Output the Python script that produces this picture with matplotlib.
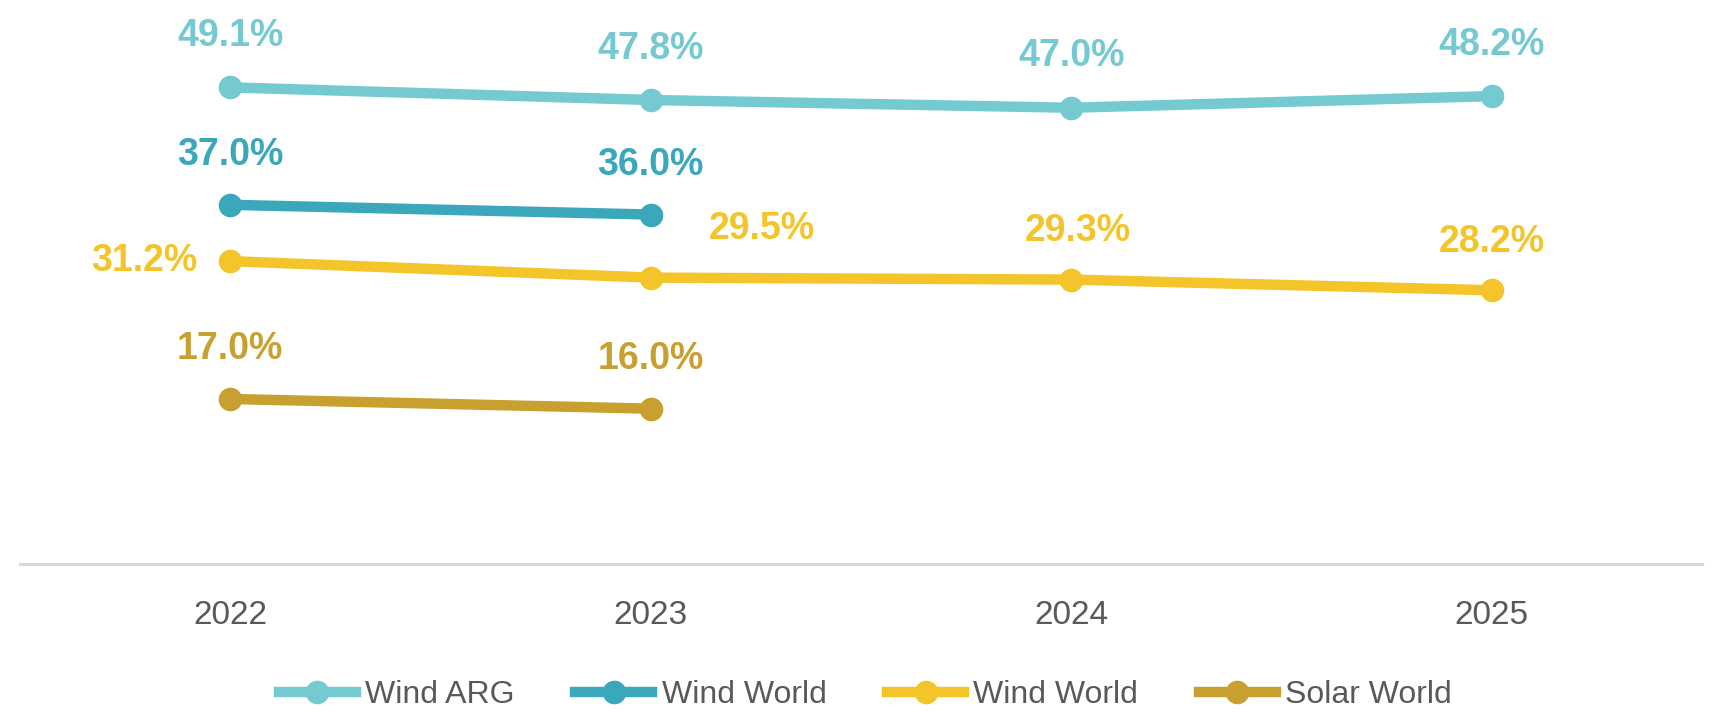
import matplotlib.pyplot as plt
from matplotlib.lines import Line2D

years = ['2022', '2023', '2024', '2025']
series_names = ['Wind ARG', 'Wind World', 'Wind World', 'Solar World']
wind_arg = [49.1, 47.8, 47.0, 48.2]
wind_world = [37.0, 36.0]
wind_world_y = [31.2, 29.5, 29.3, 28.2]
solar_world = [17.0, 16.0]

colors = ['#74CAD0', '#3AA7BB', '#F4C52A', '#C8A030']

plt.rcParams['font.family'] = ['Liberation Sans', 'DejaVu Sans']

fig = plt.figure(figsize=(17.24, 7.28), dpi=100)
ax = fig.add_axes([0.0116, 0.2253, 0.9756, 0.7747])

all_series = [wind_arg, wind_world, wind_world_y, solar_world]
# label offsets in points (dx, dy, ha)
offsets = [
    [(0, 37, 'center')] * 4,
    [(0, 36, 'center')] * 2,
    [(-24, 0, 'right'), (80, 35, 'center'), (5, 35, 'center'), (0, 35, 'center')],
    [(0, 36, 'center')] * 2,
]

for vals, col, offs in zip(all_series, colors, offsets):
    xs = list(range(len(vals)))
    ax.plot(xs, vals, color=col, lw=7.5, marker='o', markersize=17,
            markeredgewidth=0, solid_capstyle='round', zorder=3)
    for x, v, (dx, dy, ha) in zip(xs, vals, offs):
        ax.annotate(f'{v:.1f}%', (x, v), xytext=(dx, dy), textcoords='offset points',
                    ha=ha, va='center', fontsize=27, fontweight='bold', color=col)

ax.set_xlim(-0.5, 3.5)
ax.set_ylim(0, 58.1)
ax.set_xticks(range(len(years)))
ax.set_xticklabels(years)
ax.set_yticks([])
ax.tick_params(axis='x', length=0, pad=26, labelsize=24, labelcolor='#595959')
for s in ['top', 'right', 'left']:
    ax.spines[s].set_visible(False)
ax.spines['bottom'].set_color('#D9D9D9')
ax.spines['bottom'].set_linewidth(2.2)

handles = [Line2D([0], [0], color=c, lw=7.5, marker='o', markersize=17,
                  markeredgewidth=0) for c in colors]
fig.legend(handles, series_names, loc='center', bbox_to_anchor=(0.502, 0.045),
           ncol=4, frameon=False, fontsize=23, labelcolor='#595959',
           handlelength=2.4, handletextpad=0.3, columnspacing=1.9)

fig.savefig('out.png', dpi=100)
